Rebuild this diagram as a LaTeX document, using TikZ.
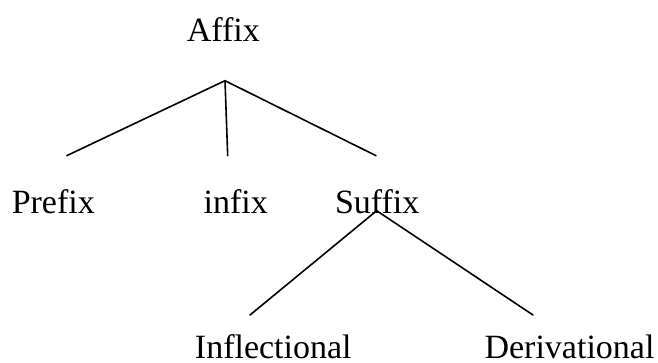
\documentclass[tikz,border=0pt]{standalone}
\usepackage{fontspec}
\setmainfont{Liberation Serif}
\begin{document}
\begin{tikzpicture}[x=1pt,y=-1pt,
  lbl/.style={inner sep=0pt,anchor=base,font=\fontsize{34}{40}\selectfont},
  branch/.style={line width=1.6pt,line cap=round}]
\useasboundingbox (0,0) rectangle (658,363);
\node[lbl] (affix) at (223.3,41.7) {Affix};
\node[lbl] (prefix) at (53.3,214) {Prefix};
\node[lbl] (infix) at (235.7,214) {infix};
\node[lbl] (suffix) at (377.2,214) {Suffix};
\node[lbl] (infl) at (273.3,358) {Inflectional};
\node[lbl] (deriv) at (569.5,358) {Derivational};
\coordinate (top) at (225,80.7);
\coordinate (pl) at (66.7,155.7);
\coordinate (pm) at (227.7,155.7);
\coordinate (pr) at (376,155.7);
\coordinate (stop) at (376.7,210.7);
\coordinate (sl) at (250,315);
\coordinate (sr) at (533,315);
\draw[branch] (pl) -- (top) -- (pr);
\draw[branch] (top) -- (pm);
\draw[branch] (sl) -- (stop) -- (sr);
\end{tikzpicture}
\end{document}
